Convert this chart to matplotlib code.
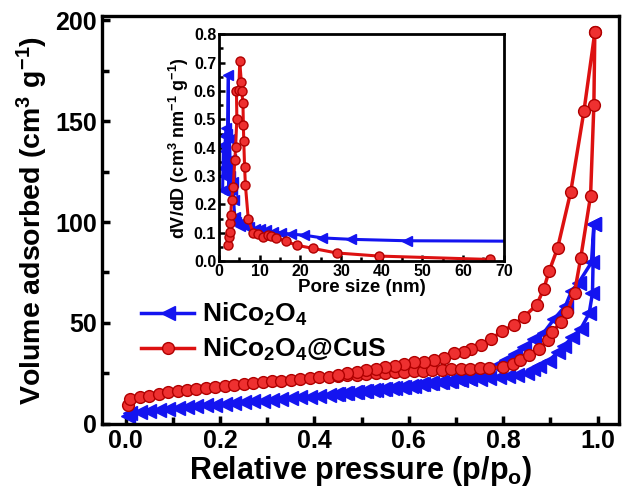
import matplotlib
matplotlib.use("Agg")
import matplotlib.pyplot as plt
from matplotlib.ticker import MultipleLocator, FormatStrFormatter

plt.rcParams["font.family"] = ["Liberation Sans", "DejaVu Sans"]
plt.rcParams["font.weight"] = "bold"
plt.rcParams["mathtext.fontset"] = "custom"
plt.rcParams["mathtext.bf"] = "Liberation Sans:bold"
plt.rcParams["mathtext.rm"] = "Liberation Sans:bold"
plt.rcParams["mathtext.default"] = "bf"

# isotherms: (p/p0, V) adsorption then desorption
nco_ads_p = [0.005, 0.01, 0.03, 0.05, 0.07, 0.09, 0.11, 0.13, 0.15, 0.17, 0.19, 0.21, 0.23, 0.25,
             0.27, 0.29, 0.31, 0.33, 0.35, 0.37, 0.39, 0.41, 0.43, 0.45, 0.47, 0.49, 0.51, 0.53,
             0.55, 0.57, 0.59, 0.61, 0.63, 0.65, 0.67, 0.69, 0.71, 0.73, 0.75, 0.77, 0.79, 0.81,
             0.83, 0.85, 0.862, 0.876, 0.897, 0.915, 0.929, 0.946, 0.964, 0.982, 0.989, 0.992]
nco_ads_v = [4.0, 5.5, 6.0, 6.5, 7.0, 7.5, 7.9, 8.3, 8.7, 9.1, 9.5, 9.9, 10.3, 10.7,
             11.1, 11.5, 11.9, 12.3, 12.7, 13.1, 13.5, 14.0, 14.5, 15.0, 15.5, 16.0, 16.5, 17.0,
             17.5, 18.0, 18.5, 19.0, 19.5, 20.0, 20.5, 21.0, 21.5, 22.0, 22.4, 22.8, 23.2, 23.6,
             24.2, 25.0, 27.2, 28.8, 31.3, 35.4, 38.7, 42.9, 47.0, 54.7, 64.7, 98.8]
nco_des_p = [0.992, 0.987, 0.96, 0.945, 0.932, 0.908, 0.886, 0.865, 0.845, 0.825, 0.805, 0.785,
             0.765, 0.745, 0.725, 0.705, 0.685, 0.665, 0.645, 0.625, 0.605, 0.585, 0.565, 0.545,
             0.525, 0.505, 0.485, 0.465, 0.445]
nco_des_v = [98.8, 80, 70, 66, 58.5, 52, 45.2, 41.9, 38, 34.5, 31.5, 28.5,
             25.5, 23.5, 22.6, 22.0, 21.4, 20.8, 20.2, 19.6, 19.0, 18.5, 18.0, 17.5,
             17.0, 16.5, 16.0, 15.5, 15.0]

cus_ads_p = [0.005, 0.01, 0.03, 0.05, 0.07, 0.09, 0.11, 0.13, 0.15, 0.17, 0.19, 0.21, 0.23, 0.25,
             0.27, 0.29, 0.31, 0.33, 0.35, 0.37, 0.39, 0.41, 0.43, 0.45, 0.47, 0.49, 0.51, 0.53,
             0.55, 0.57, 0.59, 0.61, 0.63, 0.65, 0.67, 0.69, 0.71, 0.73, 0.75, 0.77, 0.80, 0.82,
             0.835, 0.855, 0.876, 0.894, 0.904, 0.922, 0.936, 0.951, 0.964, 0.985, 0.992, 0.994]
cus_ads_v = [9.5, 12.3, 13.1, 14.0, 14.8, 15.6, 16.1, 16.6, 17.1, 17.6, 18.1, 18.6, 19.1, 19.6,
             20.1, 20.6, 21.0, 21.4, 21.8, 22.2, 22.6, 23.0, 23.3, 23.7, 24.0, 24.4, 24.7, 25.0,
             25.3, 25.6, 25.9, 26.1, 26.3, 26.6, 26.8, 27.0, 27.2, 27.4, 27.6, 27.8, 28.0, 29.8,
             31.4, 34.0, 37.0, 41.4, 45.5, 50.5, 55.5, 65.0, 82.0, 113.0, 158.0, 194.0]
cus_des_p = [0.994, 0.971, 0.943, 0.915, 0.897, 0.886, 0.871, 0.844, 0.822, 0.798, 0.774, 0.753,
             0.731, 0.717, 0.696, 0.674, 0.653, 0.632, 0.611, 0.59, 0.57, 0.55, 0.53, 0.51,
             0.49, 0.47, 0.45]
cus_des_v = [194, 155, 115, 87, 75.5, 67, 59, 53, 49, 46, 42, 39,
             37, 35.5, 35, 32.4, 31.4, 30.6, 30.6, 29.6, 28.8, 28.0, 27.2, 26.5,
             25.8, 25.0, 24.3]

# pore size distribution (nm, dV/dD)
nco_psd_d = [0.9, 1.0, 1.1, 1.3, 1.4, 1.6, 1.8, 2.0, 2.1, 2.3, 2.4, 2.6, 2.8, 3.0, 3.2, 3.4, 3.6,
             3.9, 4.3, 4.7, 5.1, 5.9, 6.5, 6.9, 7.5, 8.8, 10.0, 11.6, 13.3, 15.3, 17.8, 20.8,
             25.4, 32.5, 46.1, 80]
nco_psd_v = [0.25, 0.33, 0.41, 0.30, 0.39, 0.44, 0.47, 0.35, 0.45, 0.656, 0.24, 0.43, 0.30, 0.36,
             0.25, 0.28, 0.215, 0.156, 0.139, 0.13, 0.123, 0.133, 0.125, 0.139, 0.121, 0.115,
             0.112, 0.109, 0.103, 0.100, 0.095, 0.092, 0.082, 0.077, 0.072, 0.07]
cus_psd_d = [2.3, 2.5, 2.7, 2.7, 2.9, 3.1, 3.5, 3.9, 4.1, 4.4, 4.3, 4.9, 5.1, 5.5, 5.6, 5.9, 6.0,
             6.1, 6.3, 6.5, 7.2, 8.4, 9.6, 10.8, 12.0, 12.9, 14.1, 16.4, 19.2, 23.1, 28.9, 39.3, 66.6]
cus_psd_v = [0.056, 0.086, 0.103, 0.133, 0.162, 0.215, 0.262, 0.356, 0.403, 0.503, 0.600, 0.605,
             0.705, 0.632, 0.600, 0.556, 0.480, 0.423, 0.333, 0.268, 0.150, 0.100, 0.095, 0.085,
             0.092, 0.088, 0.083, 0.070, 0.056, 0.045, 0.029, 0.018, 0.006]

BLUE = "#1414f0"
RED = "#dd1111"
EDGE_RED = "#b00000"

blue_style = dict(color=BLUE, lw=2.5, marker="<", ms=9.5, mfc=BLUE, mec=BLUE)
red_style = dict(color=RED, lw=2.5, marker="o", ms=8.5, mfc="#ee3030", mec=EDGE_RED, mew=1.0)

fig = plt.figure(figsize=(6.22, 4.9), dpi=100)
ax = fig.add_axes([0.164, 0.135, 0.831, 0.832])

ax.plot(nco_ads_p + nco_des_p, nco_ads_v + nco_des_v, label=r"NiCo$_2$O$_4$", **blue_style)
ax.plot(cus_ads_p + cus_des_p, cus_ads_v + cus_des_v, label=r"NiCo$_2$O$_4$@CuS", **red_style)

ax.set_xlim(-0.05, 1.045)
ax.set_ylim(0, 202)
ax.xaxis.set_major_locator(MultipleLocator(0.2))
ax.xaxis.set_minor_locator(MultipleLocator(0.1))
ax.yaxis.set_major_locator(MultipleLocator(50))
ax.yaxis.set_minor_locator(MultipleLocator(25))
ax.xaxis.set_major_formatter(FormatStrFormatter("%.1f"))
ax.tick_params(which="both", direction="in", width=2.5, labelsize=18, top=False, right=False)
ax.tick_params(which="major", length=6)
ax.tick_params(which="minor", length=5)
for s in ax.spines.values():
    s.set_linewidth(2.4)
ax.set_xlabel(r"Relative pressure (p/p$_o$)", fontsize=22, fontweight="bold", labelpad=1)
ax.set_ylabel(r"Volume adsorbed (cm$^3$ g$^{-1}$)", fontsize=20.5, fontweight="bold", labelpad=4)

leg = ax.legend(loc="upper left", bbox_to_anchor=(0.03, 0.36), frameon=False, fontsize=19,
                handlelength=2.0, handletextpad=0.3, labelspacing=0.3)

ins = fig.add_axes([0.352, 0.467, 0.458, 0.463])
ins.plot(nco_psd_d, nco_psd_v, **dict(blue_style, lw=2.2, ms=7))
ins.plot(cus_psd_d, cus_psd_v, **dict(red_style, lw=2.2, ms=6.5))
ins.set_xlim(0, 70)
ins.set_ylim(0, 0.8)
ins.xaxis.set_major_locator(MultipleLocator(10))
ins.xaxis.set_minor_locator(MultipleLocator(5))
ins.yaxis.set_major_locator(MultipleLocator(0.1))
ins.yaxis.set_minor_locator(MultipleLocator(0.05))
ins.yaxis.set_major_formatter(FormatStrFormatter("%.1f"))
ins.tick_params(which="both", direction="in", width=1.8, labelsize=11.5, top=False, right=False, pad=2)
ins.tick_params(which="major", length=4)
ins.tick_params(which="minor", length=3)
for s in ins.spines.values():
    s.set_linewidth(2.0)
ins.set_xlabel("Pore size (nm)", fontsize=13.5, fontweight="bold", labelpad=0)
ins.set_ylabel(r"dV/dD (cm$^3$ nm$^{-1}$ g$^{-1}$)", fontsize=13, fontweight="bold", labelpad=2)

fig.savefig("out.png", dpi=100)
